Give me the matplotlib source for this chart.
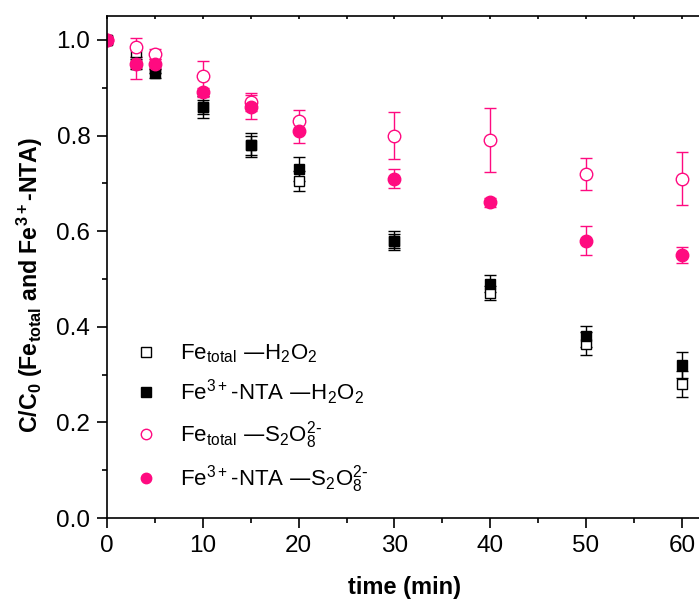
import matplotlib
matplotlib.use('Agg')
import matplotlib.pyplot as plt
from matplotlib.lines import Line2D
from matplotlib.ticker import MultipleLocator

plt.rcParams['font.family'] = ['Liberation Sans', 'DejaVu Sans']
plt.rcParams['mathtext.default'] = 'regular'

# time points (min)
t = [0, 3, 5, 10, 15, 20, 30, 40, 50, 60]

# H2O2 system
fe_total_h2o2 = [1.0, 0.975, 0.94, 0.86, 0.78, 0.705, 0.58, 0.47, 0.365, 0.28]
fe_total_h2o2_err = [0.005, 0.01, 0.01, 0.015, 0.02, 0.02, 0.015, 0.015, 0.025, 0.027]
fe_nta_h2o2 = [1.0, 0.95, 0.93, 0.86, 0.78, 0.73, 0.58, 0.49, 0.38, 0.32]
fe_nta_h2o2_err = [0.005, 0.01, 0.01, 0.023, 0.025, 0.025, 0.02, 0.018, 0.022, 0.027]

# S2O8 2- system
fe_total_s2o8 = [1.0, 0.985, 0.97, 0.925, 0.87, 0.83, 0.80, 0.79, 0.72, 0.71]
fe_total_s2o8_err = [0.005, 0.02, 0.01, 0.03, 0.018, 0.023, 0.05, 0.067, 0.034, 0.056]
fe_nta_s2o8 = [1.0, 0.95, 0.95, 0.89, 0.86, 0.81, 0.71, 0.66, 0.58, 0.55]
fe_nta_s2o8_err = [0.005, 0.032, 0.01, 0.01, 0.025, 0.026, 0.02, 0.01, 0.03, 0.017]

labels = [r'Fe$_{total}$ —H$_2$O$_2$',
          r'Fe$^{3+}$-NTA —H$_2$O$_2$',
          r'Fe$_{total}$ —S$_2$O$_8^{2\text{-}}$',
          r'Fe$^{3+}$-NTA —S$_2$O$_8^{2\text{-}}$']

pink = '#ff0a80'

fig = plt.figure(figsize=(6.99, 5.99), dpi=100)
ax = fig.add_axes([0.1531, 0.1352, 0.8498, 0.8381])

ek = dict(capsize=4, elinewidth=1, capthick=1, linestyle='none')
ax.errorbar(t, fe_total_h2o2, yerr=fe_total_h2o2_err, fmt='s', ms=7.5, mfc='white',
            mec='black', mew=1, ecolor='black', **ek)
ax.errorbar(t, fe_nta_h2o2, yerr=fe_nta_h2o2_err, fmt='s', ms=7.5, mfc='black',
            mec='black', ecolor='black', **ek)
ax.errorbar(t, fe_total_s2o8, yerr=fe_total_s2o8_err, fmt='o', ms=9, mfc='white',
            mec=pink, mew=1, ecolor=pink, **ek)
ax.errorbar(t, fe_nta_s2o8, yerr=fe_nta_s2o8_err, fmt='o', ms=9, mfc=pink,
            mec=pink, ecolor=pink, **ek)

ax.set_xlim(0, 62)
ax.set_ylim(0, 1.05)
ax.xaxis.set_major_locator(MultipleLocator(10))
ax.xaxis.set_minor_locator(MultipleLocator(5))
ax.yaxis.set_major_locator(MultipleLocator(0.2))
ax.yaxis.set_minor_locator(MultipleLocator(0.1))
ax.yaxis.set_major_formatter(plt.FuncFormatter(lambda v, p: f'{v:.1f}'))

for s in ax.spines.values():
    s.set_linewidth(1.2)
ax.spines['right'].set_visible(False)

ax.tick_params(which='major', direction='out', length=7, width=1.2, labelsize=17.5, pad=5)
ax.tick_params(which='minor', direction='out', length=3.5, width=1.2)
ax.tick_params(axis='x', which='both', top=True, labeltop=False)
for tk in ax.xaxis.get_major_ticks() + ax.xaxis.get_minor_ticks():
    tk.tick2line.set_marker(3)
    tk.tick2line.set_markersize(2)

ax.set_xlabel('time (min)', fontsize=17, fontweight='bold', labelpad=14)
ax.set_ylabel(r'C/C$_0$ (Fe$_{total}$ and Fe$^{3+}$-NTA)', fontsize=16.7,
              fontweight='bold', labelpad=8)
ax.yaxis.label.set_y(0.464)

# legend shows markers only
handles = [
    Line2D([], [], ls='none', marker='s', ms=7, mfc='white', mec='black', mew=1),
    Line2D([], [], ls='none', marker='s', ms=7, mfc='black', mec='black'),
    Line2D([], [], ls='none', marker='o', ms=7.5, mfc='white', mec=pink, mew=1),
    Line2D([], [], ls='none', marker='o', ms=7.5, mfc=pink, mec=pink),
]
ax.legend(handles, labels, loc='upper left', bbox_to_anchor=(0.029, 0.372),
          frameon=False, fontsize=16, handlelength=1.0, handletextpad=1.0,
          labelspacing=0.55, borderpad=0)

fig.savefig('out.png', dpi=100)
